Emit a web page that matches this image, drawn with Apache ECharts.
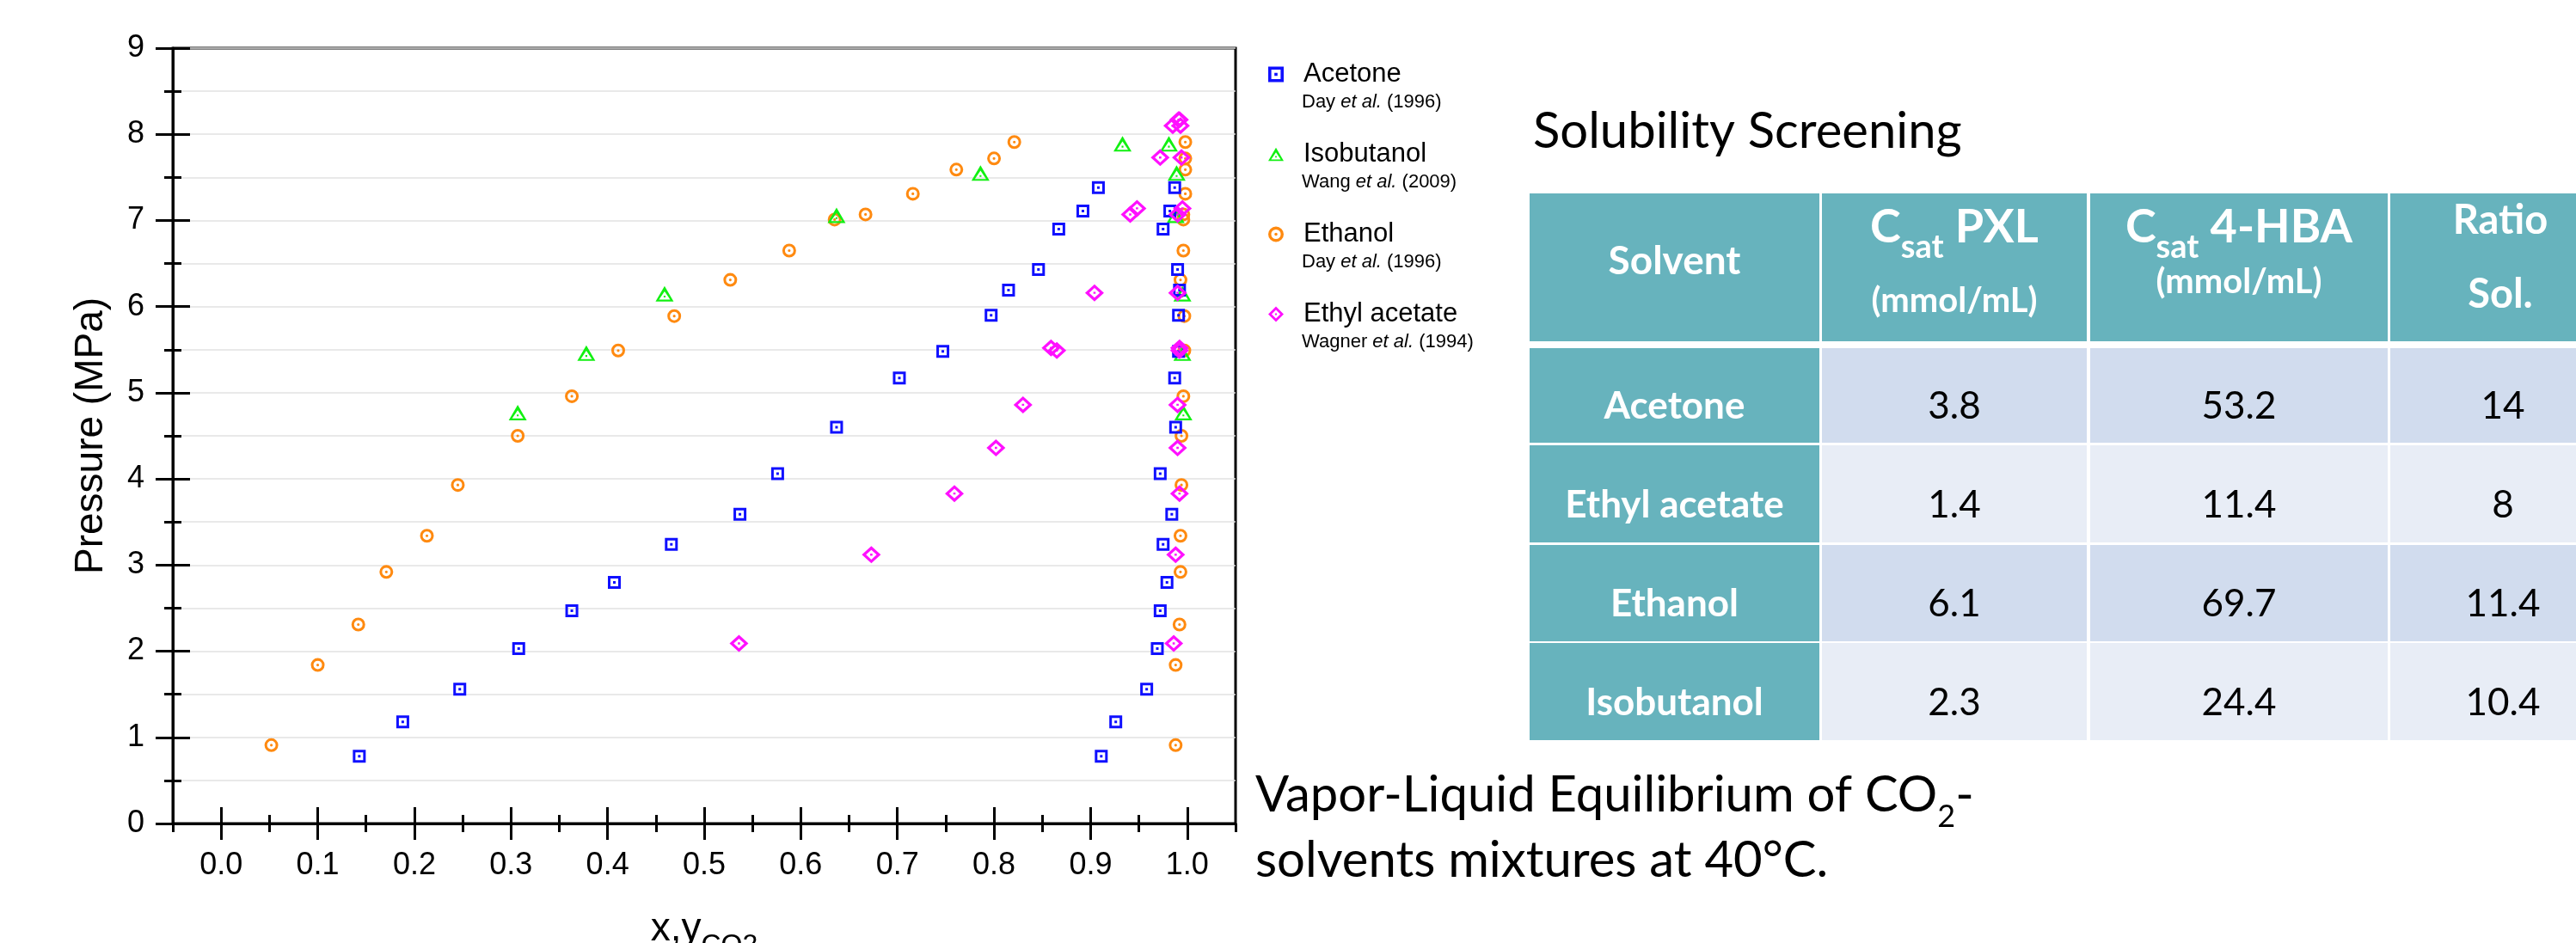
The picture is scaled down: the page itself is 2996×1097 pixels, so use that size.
<!DOCTYPE html>
<html>
<head>
<meta charset="utf-8">
<script src="https://cdn.jsdelivr.net/npm/echarts@6/dist/echarts.min.js"></script>
<style>html,body{margin:0;padding:0;background:#fff}#c{width:2996px;height:1097px}</style>
</head>
<body>
<div id="c"></div>
<script>
// ---------------- DATA ----------------
// Pressure (MPa) with liquid (x) and vapour (y) CO2 mole fractions
const acetoneP = [0.78,1.18,1.56,2.03,2.47,2.80,3.24,3.59,4.06,4.60,5.17,5.48,5.90,6.19,6.43,6.90,7.11,7.38];
const acetoneX = [0.143,0.188,0.247,0.308,0.363,0.407,0.466,0.537,0.576,0.637,0.702,0.747,0.797,0.815,0.846,0.867,0.892,0.908];
const acetoneY = [0.911,0.926,0.958,0.969,0.972,0.979,0.975,0.984,0.972,0.988,0.987,0.991,0.991,0.992,0.990,0.975,0.982,0.987];

const ethanolP = [0.91,1.84,2.31,2.92,3.34,3.93,4.50,4.96,5.49,5.89,6.31,6.65,7.01,7.07,7.31,7.59,7.72,7.91];
const ethanolX = [0.052,0.100,0.142,0.171,0.213,0.245,0.307,0.363,0.411,0.469,0.527,0.588,0.635,0.667,0.716,0.761,0.800,0.821];
const ethanolY = [0.988,0.988,0.992,0.993,0.993,0.994,0.994,0.996,0.997,0.997,0.993,0.996,0.996,0.996,0.998,0.998,0.998,0.998];

const isobutanolP = [4.74,5.43,6.12,7.03,7.52,7.86];
const isobutanolX = [0.307,0.378,0.459,0.637,0.786,0.933];
const isobutanolY = [0.996,0.995,0.995,0.988,0.989,0.981];

const ethylAcetateP = [2.09,3.12,3.83,4.36,4.86,5.49,5.52,6.16,7.07,7.14,7.73,8.10,8.17];
const ethylAcetateX = [0.536,0.673,0.759,0.802,0.830,0.865,0.859,0.904,0.941,0.948,0.972,0.985,0.991];
const ethylAcetateY = [0.986,0.988,0.992,0.990,0.990,0.992,0.992,0.990,0.990,0.995,0.994,0.993,0.992];

const legendNames   = ['Acetone','Isobutanol','Ethanol','Ethyl acetate'];
const legendAuthors = ['Day','Wang','Day','Wagner'];
const legendYears   = ['1996','2009','1996','1994'];

const xTickValues = [0.0,0.1,0.2,0.3,0.4,0.5,0.6,0.7,0.8,0.9,1.0];
const xMinorTickValues = [-0.05,0.05,0.15,0.25,0.35,0.45,0.55,0.65,0.75,0.85,0.95,1.05];
const yTickValues = [0,1,2,3,4,5,6,7,8,9];
const yMinorTickValues = [0.5,1.5,2.5,3.5,4.5,5.5,6.5,7.5,8.5];

// Solubility screening table
const tableSolvents = ['Acetone','Ethyl acetate','Ethanol','Isobutanol'];
const tablePXL   = ['3.8','1.4','6.1','2.3'];
const tableHBA   = ['53.2','11.4','69.7','24.4'];
const tableRatio = ['14','8','11.4','10.4'];

// ---------------- STYLE ----------------
const SANS = "'Liberation Sans', Arial, Helvetica, sans-serif";
const CAL = "Lato, 'Open Sans', sans-serif";
const COLORS = {Acetone:'#1010ff', Isobutanol:'#12f012', Ethanol:'#ff8a10', 'Ethyl acetate':'#ff10ff'};
const SYMBOLS = {
  Acetone: 'path://M0 0H100V100H0Z M20 20V80H80V20Z M40 40H60V60H40Z',
  Ethanol: 'path://M50 0A50 50 0 1 1 50 100A50 50 0 1 1 50 0Z M50 19A31 31 0 1 0 50 81A31 31 0 1 0 50 19Z M50 40A10 10 0 1 1 50 60A10 10 0 1 1 50 40Z',
  Isobutanol: 'path://M50 0L100 86L0 86Z M50 30L19 76L81 76Z M45 54H55V64H45Z',
  'Ethyl acetate': 'path://M50 0L100 50L50 100L0 50Z M50 22L22 50L50 78L78 50Z M44 44H56V56H44Z'
};
const SIZES = {Acetone:15, Ethanol:16, Isobutanol:[21,18], 'Ethyl acetate':[22,20]};

function pairs(P, X, Y){ return P.map((p,i)=>[X[i],p]).concat(P.map((p,i)=>[Y[i],p])); }
const seriesData = {
  Ethanol: pairs(ethanolP, ethanolX, ethanolY),
  Isobutanol: pairs(isobutanolP, isobutanolX, isobutanolY),
  Acetone: pairs(acetoneP, acetoneX, acetoneY),
  'Ethyl acetate': pairs(ethylAcetateP, ethylAcetateX, ethylAcetateY)
};
const drawOrder = ['Ethanol','Isobutanol','Acetone','Ethyl acetate'];

// ---------------- AXES ----------------
const G = {left:201, top:56, width:1236, height:902};
function tickAxis(dim, values, len, inside, extra){
  const base = {
    type:'value', min: dim==='x'?-0.05:0, max: dim==='x'?1.05:9,
    axisLine:{show:false, onZero:false},
    axisTick:{show:true, customValues:values, length:len, inside:inside, lineStyle:{color:'#000', width:3}},
    axisLabel:{show:false}, splitLine:{show:false}
  };
  if (dim==='x') base.position='bottom'; else base.position='left';
  return Object.assign(base, extra||{});
}
const xAxes = [
  tickAxis('x', xTickValues, 19, false, {
    axisLine:{show:true, onZero:false, lineStyle:{color:'#000', width:3}},
    axisLabel:{show:true, customValues:xTickValues, formatter:v=>v.toFixed(1), fontSize:36, color:'#000', fontFamily:SANS, margin:31},
    name:'{a|x,y}{b|CO2}', nameLocation:'middle', nameGap:88,
    nameTextStyle:{rich:{
      a:{fontSize:46, fontFamily:SANS, color:'#000', lineHeight:70, verticalAlign:'middle'},
      b:{fontSize:32, fontFamily:SANS, color:'#000', verticalAlign:'bottom'}
    }}
  }),
  tickAxis('x', xTickValues, 19, true),
  tickAxis('x', xMinorTickValues, 10, false),
  tickAxis('x', xMinorTickValues.slice(1,-1), 10, true)
];
const yAxes = [
  tickAxis('y', yTickValues, 20, false, {
    axisLine:{show:true, onZero:false, lineStyle:{color:'#000', width:3}},
    axisLabel:{show:true, customValues:yTickValues, fontSize:36, color:'#000', fontFamily:SANS, margin:33},
    name:'Pressure (MPa)', nameLocation:'middle', nameGap:72,
    nameTextStyle:{fontSize:46, fontFamily:SANS, color:'#000'}
  }),
  tickAxis('y', yTickValues, 20, true),
  tickAxis('y', yMinorTickValues, 10, false),
  tickAxis('y', yMinorTickValues, 10, true),
  {type:'value', min:0, max:9, interval:0.5, position:'left',
   axisLine:{show:false,onZero:false}, axisTick:{show:false}, axisLabel:{show:false},
   splitLine:{show:true, lineStyle:{color:'#e2e2e2', width:1.5}}}
];

// ---------------- TABLE (graphic) ----------------
const T = {
  colX:[1779,2119,2431,2780], colW:[337,308,346,262],
  headY:225, headH:172,
  rowY:[405,518,634,748], rowH:[110,113,112,113],
  textY:[473,588,703,818],
  teal:'#67b3bd', rowA:'#d1dcee', rowB:'#e8edf6'
};
const colCx = T.colX.map((x,i)=>x+T.colW[i]/2);
const graphics = [];
T.colX.forEach((x,i)=>graphics.push({type:'rect', silent:true, shape:{x:x,y:T.headY,width:T.colW[i],height:T.headH}, style:{fill:T.teal}}));
tableSolvents.forEach((s,r)=>{
  T.colX.forEach((x,i)=>graphics.push({type:'rect', silent:true,
    shape:{x:x,y:T.rowY[r],width:T.colW[i],height:T.rowH[r]},
    style:{fill: i===0?T.teal:(r%2===0?T.rowA:T.rowB)}}));
  const vals=[s,tablePXL[r],tableHBA[r],tableRatio[r]];
  vals.forEach((v,i)=>graphics.push({type:'text', silent:true,
    style:{text:v, x:colCx[i], y:T.textY[r], align:'center', verticalAlign:'middle',
      fontFamily:CAL, fontSize:44, fontWeight: i===0?'bold':'normal', fill: i===0?'#fff':'#000'}}));
});
const headRich = {
  c:{fontFamily:CAL, fontSize:54, fontWeight:'bold', fill:'#fff', verticalAlign:'middle'},
  s:{fontFamily:CAL, fontSize:38, fontWeight:'bold', fill:'#fff', verticalAlign:'bottom'},
  u:{fontFamily:CAL, fontSize:40, fontWeight:'bold', fill:'#fff'}
};
graphics.push({type:'text', silent:true, style:{text:'Solvent', x:colCx[0], y:304, align:'center', verticalAlign:'middle', fontFamily:CAL, fontSize:46, fontWeight:'bold', fill:'#fff'}});
graphics.push({type:'text', silent:true, style:{
  text:'{c|C}{s|sat}{c| PXL}\n{u|(mmol/mL)}', x:colCx[1], y:223, align:'center', verticalAlign:'top',
  rich:Object.assign({}, headRich, {c:Object.assign({},headRich.c,{lineHeight:84}), u:Object.assign({},headRich.u,{lineHeight:86})})}});
graphics.push({type:'text', silent:true, style:{
  text:'{c|C}{s|sat}{c| 4-HBA}\n{u|(mmol/mL)}', x:colCx[2], y:223, align:'center', verticalAlign:'top',
  rich:Object.assign({}, headRich, {c:Object.assign({},headRich.c,{lineHeight:84}), u:Object.assign({},headRich.u,{lineHeight:43})})}});
graphics.push({type:'text', silent:true, style:{text:'Ratio\nSol.', x:2908, y:214, align:'center', verticalAlign:'top', lineHeight:86,
  fontFamily:CAL, fontSize:47, fontWeight:'bold', fill:'#fff'}});
// captions
graphics.push({type:'text', silent:true, style:{text:'Solubility Screening', x:1783, y:153, align:'left', verticalAlign:'middle', fontFamily:CAL, fontSize:58, fill:'#000'}});
graphics.push({type:'text', silent:true, style:{text:'{t|Vapor-Liquid Equilibrium of CO}{b|2}{t|-}', x:1460, y:883, align:'left', verticalAlign:'top',
  rich:{t:{fontFamily:CAL, fontSize:58, fill:'#000', lineHeight:85, verticalAlign:'middle'}, b:{fontFamily:CAL, fontSize:36, fill:'#000', verticalAlign:'bottom'}}}});
graphics.push({type:'text', silent:true, style:{text:'solvents mixtures at 40°C.', x:1460, y:1001, align:'left', verticalAlign:'middle', fontFamily:CAL, fontSize:58, fill:'#000'}});

// ---------------- CHART ----------------
const chart = echarts.init(document.getElementById('c'), null, {renderer:'canvas'});
chart.setOption({
  animation:false,
  backgroundColor:'#fff',
  grid:{left:G.left, top:G.top, width:G.width, height:G.height, show:true, borderColor:'#000', borderWidth:3, backgroundColor:'transparent', containLabel:false, outerBoundsMode:'none'},
  xAxis: xAxes,
  yAxis: yAxes,
  legend:{
    orient:'vertical', left:1470, top:38, itemWidth:18, itemHeight:18, itemGap:6, selectedMode:false,
    data: legendNames.map(n=>({name:n, icon:SYMBOLS[n]})),
    formatter: function(name){
      const i = legendNames.indexOf(name);
      return '{sp| }\n{n|'+name+'}\n{a|'+legendAuthors[i]+' }{i|et al.}{c| ('+legendYears[i]+')}';
    },
    textStyle:{rich:{
      sp:{fontSize:22, lineHeight:29},
      n:{fontSize:31, lineHeight:36, fontFamily:SANS, color:'#000', padding:[0,0,0,18]},
      a:{fontSize:22, lineHeight:29, fontFamily:SANS, color:'#000', padding:[0,0,0,16]},
      i:{fontSize:22, lineHeight:29, fontFamily:SANS, color:'#000', fontStyle:'italic'},
      c:{fontSize:22, lineHeight:29, fontFamily:SANS, color:'#000'}
    }}
  },
  graphic: graphics,
  series: drawOrder.map(n=>({
    name:n, type:'scatter', xAxisIndex:0, yAxisIndex:0,
    symbol:SYMBOLS[n], symbolSize:SIZES[n], symbolOffset: n==='Isobutanol'?[0,-3]:[0,0],
    itemStyle:{color:COLORS[n], opacity:1},
    emphasis:{disabled:true},
    data: seriesData[n]
  }))
});
</script>
</body>
</html>
